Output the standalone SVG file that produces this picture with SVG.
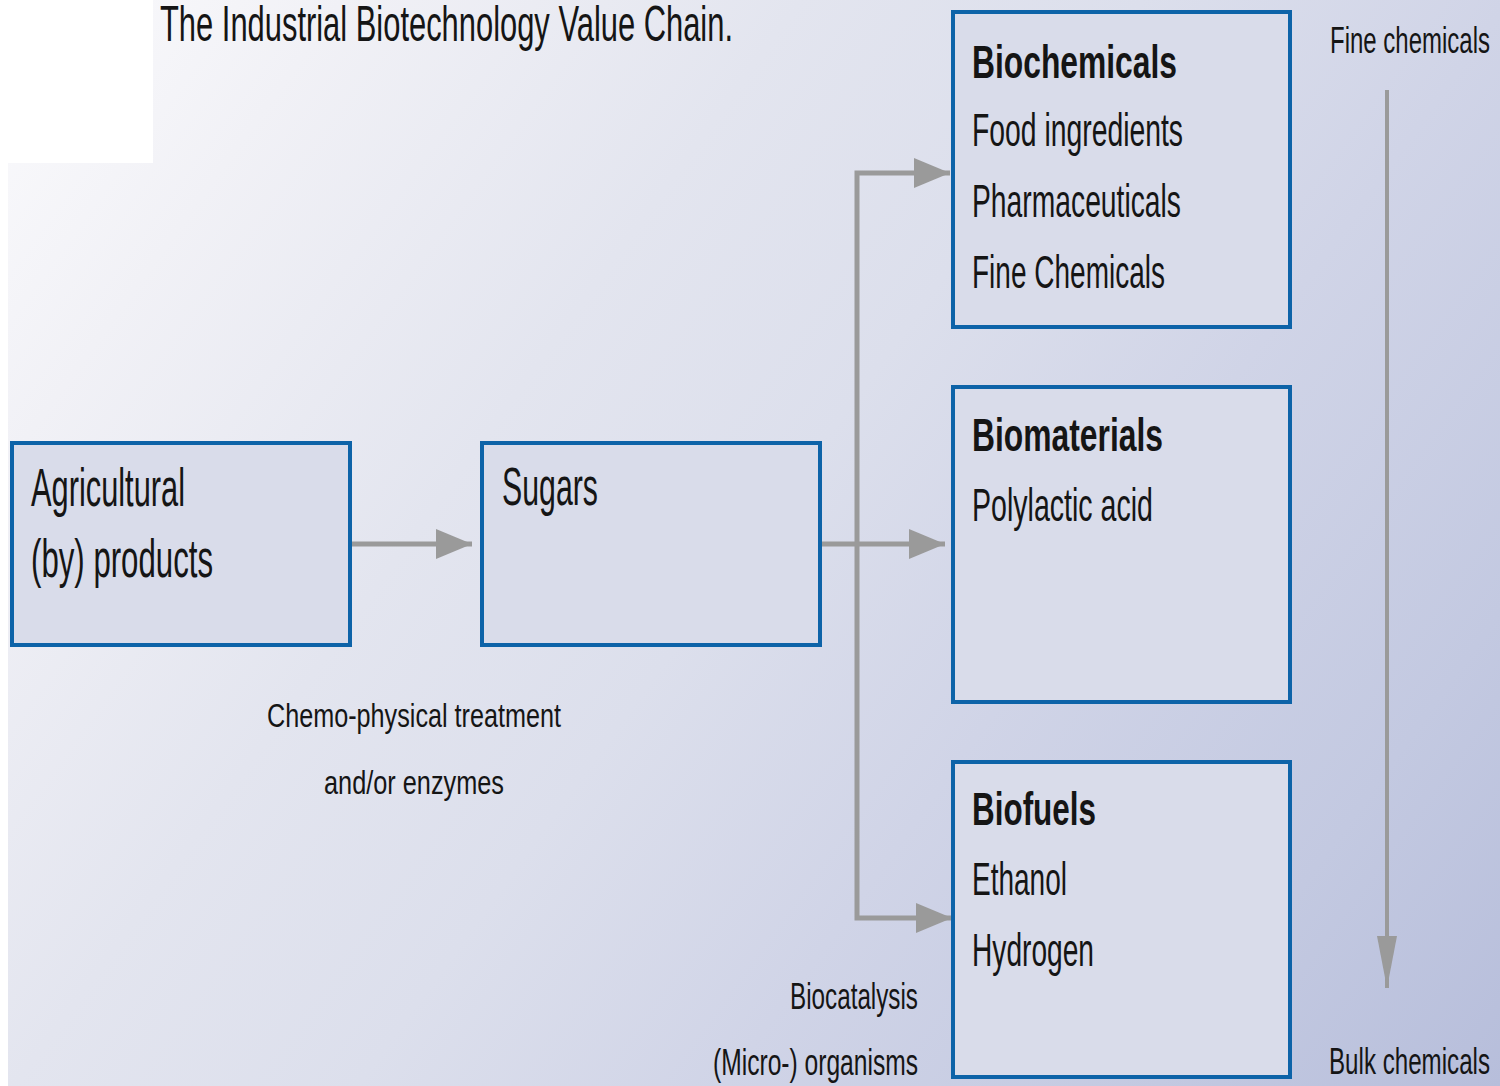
<svg xmlns="http://www.w3.org/2000/svg" width="1500" height="1086" viewBox="0 0 1500 1086">
  <defs>
    <linearGradient id="bg" gradientUnits="userSpaceOnUse" x1="0" y1="0" x2="1500" y2="1086">
      <stop offset="0" stop-color="#fbfbfd"/>
      <stop offset="0.15" stop-color="#f1f1f6"/>
      <stop offset="0.35" stop-color="#e3e5ef"/>
      <stop offset="0.5" stop-color="#dcdfec"/>
      <stop offset="0.66" stop-color="#d0d4e7"/>
      <stop offset="0.85" stop-color="#c3c9e1"/>
      <stop offset="1" stop-color="#b7bedb"/>
    </linearGradient>
    <marker id="head" markerUnits="userSpaceOnUse" markerWidth="36" markerHeight="30" refX="36" refY="15" orient="auto">
      <path d="M0,0 L36,15 L0,30 Z" fill="#9a9a9a"/>
    </marker>
    <marker id="headThin" markerUnits="userSpaceOnUse" markerWidth="52" markerHeight="22" refX="52" refY="11" orient="auto">
      <path d="M0,1 L52,11 L0,21 Z" fill="#9a9a9a"/>
    </marker>
    <style>
      .box { fill: #d9dcea; stroke: #0d63a8; stroke-width: 4; }
      .t { font-family: "Liberation Sans Narrow", "Liberation Sans", Arial, sans-serif; fill: #151515; }
      .b { font-weight: bold; }
      .conn { fill: none; stroke: #9a9a9a; stroke-width: 5; stroke-linejoin: miter; }
    </style>
  </defs>

  <rect x="0" y="0" width="1500" height="1086" fill="#ffffff"/>
  <rect x="8" y="0" width="1492" height="1086" fill="url(#bg)"/>
  <rect x="0" y="0" width="153" height="163" fill="#ffffff"/>

  <text class="t" x="160" y="41" font-size="50" textLength="573" lengthAdjust="spacingAndGlyphs">The Industrial Biotechnology Value Chain.</text>

  <g id="connectors">
    <path class="conn" d="M350,544 L472,544" marker-end="url(#head)"/>
    <path class="conn" d="M820,544 L945,544" marker-end="url(#head)"/>
    <path class="conn" d="M857,544 L857,173 L950,173" marker-end="url(#head)"/>
    <path class="conn" d="M857,544 L857,918 L952,918" marker-end="url(#head)"/>
    <path class="conn" d="M1387,90 L1387,988" style="stroke-width:4" marker-end="url(#headThin)"/>
  </g>

  <g id="agricultural">
    <rect class="box" x="12" y="443" width="338" height="202"/>
    <text class="t" x="31" y="506" font-size="53" textLength="154" lengthAdjust="spacingAndGlyphs">Agricultural</text>
    <text class="t" x="31" y="577" font-size="53" textLength="182" lengthAdjust="spacingAndGlyphs">(by) products</text>
  </g>

  <g id="sugars">
    <rect class="box" x="482" y="443" width="338" height="202"/>
    <text class="t" x="502" y="505" font-size="53" textLength="96" lengthAdjust="spacingAndGlyphs">Sugars</text>
  </g>

  <g id="biochemicals">
    <rect class="box" x="953" y="12" width="337" height="315"/>
    <text class="t b" x="972" y="78" font-size="47" textLength="205" lengthAdjust="spacingAndGlyphs">Biochemicals</text>
    <text class="t" x="972" y="146" font-size="46" textLength="211" lengthAdjust="spacingAndGlyphs">Food ingredients</text>
    <text class="t" x="972" y="217" font-size="46" textLength="209" lengthAdjust="spacingAndGlyphs">Pharmaceuticals</text>
    <text class="t" x="972" y="288" font-size="46" textLength="193" lengthAdjust="spacingAndGlyphs">Fine Chemicals</text>
  </g>

  <g id="biomaterials">
    <rect class="box" x="953" y="387" width="337" height="315"/>
    <text class="t b" x="972" y="451" font-size="47" textLength="191" lengthAdjust="spacingAndGlyphs">Biomaterials</text>
    <text class="t" x="972" y="521" font-size="46" textLength="181" lengthAdjust="spacingAndGlyphs">Polylactic acid</text>
  </g>

  <g id="biofuels">
    <rect class="box" x="953" y="762" width="337" height="315"/>
    <text class="t b" x="972" y="825" font-size="47" textLength="124" lengthAdjust="spacingAndGlyphs">Biofuels</text>
    <text class="t" x="972" y="895" font-size="46" textLength="95" lengthAdjust="spacingAndGlyphs">Ethanol</text>
    <text class="t" x="972" y="966" font-size="46" textLength="122" lengthAdjust="spacingAndGlyphs">Hydrogen</text>
  </g>

  <g id="labels">
    <text class="t" x="267" y="727" font-size="34" textLength="294" lengthAdjust="spacingAndGlyphs">Chemo-physical treatment</text>
    <text class="t" x="324" y="794" font-size="34" textLength="180" lengthAdjust="spacingAndGlyphs">and/or enzymes</text>
    <text class="t" x="790" y="1009" font-size="37" textLength="128" lengthAdjust="spacingAndGlyphs">Biocatalysis</text>
    <text class="t" x="713" y="1075" font-size="37" textLength="205" lengthAdjust="spacingAndGlyphs">(Micro-) organisms</text>
    <text class="t" x="1330" y="53" font-size="36" textLength="160" lengthAdjust="spacingAndGlyphs">Fine chemicals</text>
    <text class="t" x="1329" y="1074" font-size="37" textLength="161" lengthAdjust="spacingAndGlyphs">Bulk chemicals</text>
  </g>
</svg>
